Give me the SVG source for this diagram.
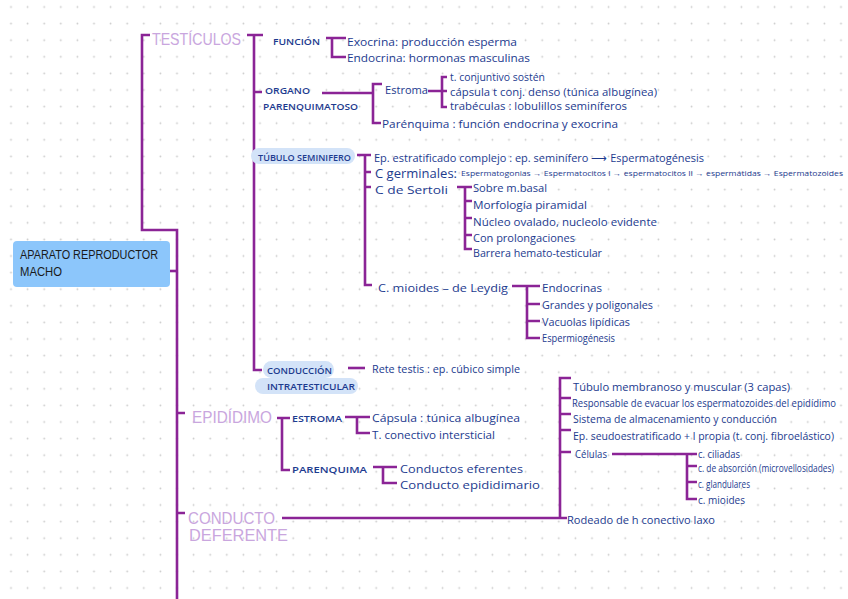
<svg xmlns="http://www.w3.org/2000/svg" width="848" height="599" viewBox="0 0 848 599">
<defs>
<pattern id="dots" x="2.7" y="-1.3" width="16.6" height="16.6" patternUnits="userSpaceOnUse">
<circle cx="8.3" cy="8.3" r="0.9" fill="#c9c9c9"/>
</pattern>
<style>
.t{font-family:"Open Sans","Liberation Sans",sans-serif;fill:#1d3b8f;font-size:11px;dominant-baseline:central}
.sm{font-size:7px}
.cap{font-size:9px;font-weight:600}
.big{font-size:12px}
.h{font-family:"Liberation Sans",sans-serif;fill:#c9a6de;font-size:16.5px;dominant-baseline:central}
.c{stroke:#8b2496;stroke-width:2.6;fill:none;stroke-linecap:butt;stroke-linejoin:miter}
.pill{fill:#d3e3f8}
</style>
</defs>
<rect width="848" height="599" fill="#ffffff"/>
<rect width="848" height="599" fill="url(#dots)"/>

<g id="connectors">
<path class="c" d="M150,35 H142 V230 H177 V599"/>
<path class="c" d="M170,271 H177"/>
<path class="c" d="M247,35 H263 M254,35 V370 H262 M254,92 H262 M254,155 H258"/>
<path class="c" d="M326,38 H346 M332,38 V57 H346"/>
<path class="c" d="M322,93 H373 M382,84 H373 V123 H381"/>
<path class="c" d="M428,91 H447 M447,77 H442 V107 H447"/>
<path class="c" d="M357,155 H371 M365,155 V285 H372 M365,172 H371 M365,187 H371"/>
<path class="c" d="M457,187 H472 M465,187 V249 H472 M465,201 H472 M465,218 H472 M465,235 H472"/>
<path class="c" d="M512,286 H540 M527,286 V338 H540 M527,304 H540 M527,321 H540"/>
<path class="c" d="M348,368 H365"/>
<path class="c" d="M177,413 H185 M277,418 H290 M282,418 V470 H290"/>
<path class="c" d="M345,417 H370 M357,417 V433 H370"/>
<path class="c" d="M373,467 H397 M383,467 V483 H397"/>
<path class="c" d="M177,513 H185 M282,518 H560 M571,378 H560 V518 H567 M560,398 H571 M560,414 H571 M560,430 H571 M560,452 H571"/>
<path class="c" d="M612,454 H697 M687,454 V499 H697 M687,466 H697 M687,482 H697"/>
</g>

<g id="root">
<rect x="13" y="241" width="157" height="46" rx="4" fill="#8cc6fb"/>
<text x="20" y="255" font-family="Liberation Sans, sans-serif" font-size="12.5" fill="#1a1a1a" dominant-baseline="central" textLength="138" lengthAdjust="spacingAndGlyphs">APARATO REPRODUCTOR</text>
<text x="20" y="272" font-family="Liberation Sans, sans-serif" font-size="12.5" fill="#1a1a1a" dominant-baseline="central" textLength="42" lengthAdjust="spacingAndGlyphs">MACHO</text>
</g>

<g id="testiculos"><text class="h" x="152" y="39" textLength="89" lengthAdjust="spacingAndGlyphs">TESTÍCULOS</text></g>

<g id="funcion"><text class="t cap" x="273" y="41" textLength="47" lengthAdjust="spacingAndGlyphs">FUNCIÓN</text></g>
<g id="exocrina"><text class="t" x="347" y="41" textLength="170" lengthAdjust="spacingAndGlyphs">Exocrina: producción esperma</text></g>
<g id="endocrina"><text class="t" x="347" y="57" textLength="183" lengthAdjust="spacingAndGlyphs">Endocrina: hormonas masculinas</text></g>

<g id="organo">
<text class="t cap" x="265" y="90" font-size="8.5" textLength="45" lengthAdjust="spacingAndGlyphs">ORGANO</text>
<text class="t cap" x="263" y="106" font-size="8.5" textLength="95" lengthAdjust="spacingAndGlyphs">PARENQUIMATOSO</text>
</g>
<g id="estroma-t"><text class="t" x="385" y="89" textLength="43" lengthAdjust="spacingAndGlyphs">Estroma</text></g>
<g id="tconj"><text class="t" x="450" y="76" font-size="9.5" textLength="95" lengthAdjust="spacingAndGlyphs">t. conjuntivo sostén</text></g>
<g id="capsula-t"><text class="t" x="450" y="91" font-size="10" textLength="207" lengthAdjust="spacingAndGlyphs">cápsula t conj. denso (túnica albugínea)</text></g>
<g id="trabeculas"><text class="t" x="450" y="105" font-size="9.5" textLength="177" lengthAdjust="spacingAndGlyphs">trabéculas : lobulillos seminíferos</text></g>
<g id="parenquima-t"><text class="t" x="382" y="123" textLength="236" lengthAdjust="spacingAndGlyphs">Parénquima : función endocrina y exocrina</text></g>

<g id="tubulo">
<rect class="pill" x="251" y="148" width="104" height="16" rx="8"/>
<text class="t cap" x="258" y="157" font-size="8.5" textLength="93" lengthAdjust="spacingAndGlyphs">TÚBULO SEMINIFERO</text>
</g>
<g id="ep-estratificado"><text class="t" x="374" y="157" font-size="10.5" textLength="330" lengthAdjust="spacingAndGlyphs">Ep. estratificado complejo : ep. seminífero ⟶ Espermatogénesis</text></g>
<g id="germinales">
<text class="t big" x="375" y="173" textLength="82" lengthAdjust="spacingAndGlyphs">C germinales:</text>
<text class="t sm" x="461" y="173" textLength="382" lengthAdjust="spacingAndGlyphs">Espermatogonias → Espermatocitos I → espermatocitos II → espermátidas → Espermatozoides</text>
</g>
<g id="sertoli"><text class="t" x="375" y="189" textLength="73" lengthAdjust="spacingAndGlyphs">C de Sertoli</text></g>
<g id="s1"><text class="t" x="473" y="187" font-size="10" textLength="74" lengthAdjust="spacingAndGlyphs">Sobre m.basal</text></g>
<g id="s2"><text class="t" x="473" y="204" font-size="10" textLength="114" lengthAdjust="spacingAndGlyphs">Morfología piramidal</text></g>
<g id="s3"><text class="t" x="473" y="221" font-size="10" textLength="184" lengthAdjust="spacingAndGlyphs">Núcleo ovalado, nucleolo evidente</text></g>
<g id="s4"><text class="t" x="473" y="237" font-size="10" textLength="102" lengthAdjust="spacingAndGlyphs">Con prolongaciones</text></g>
<g id="s5"><text class="t" x="473" y="252" font-size="9" textLength="129" lengthAdjust="spacingAndGlyphs">Barrera hemato-testicular</text></g>

<g id="leydig"><text class="t" x="378" y="287" textLength="130" lengthAdjust="spacingAndGlyphs">C. mioides – de Leydig</text></g>
<g id="l1"><text class="t" x="542" y="287" font-size="10" textLength="60" lengthAdjust="spacingAndGlyphs">Endocrinas</text></g>
<g id="l2"><text class="t" x="542" y="304" font-size="10" textLength="111" lengthAdjust="spacingAndGlyphs">Grandes y poligonales</text></g>
<g id="l3"><text class="t" x="542" y="321" font-size="10" textLength="88" lengthAdjust="spacingAndGlyphs">Vacuolas lipídicas</text></g>
<g id="l4"><text class="t" x="542" y="337" font-size="10" textLength="73" lengthAdjust="spacingAndGlyphs">Espermiogénesis</text></g>

<g id="conduccion">
<rect class="pill" x="263" y="361" width="71" height="17" rx="8.5"/>
<rect class="pill" x="255" y="378" width="103" height="16" rx="8"/>
<text class="t cap" x="267" y="370" font-size="8.5" textLength="65" lengthAdjust="spacingAndGlyphs">CONDUCCIÓN</text>
<text class="t cap" x="267" y="386" font-size="8.5" textLength="88" lengthAdjust="spacingAndGlyphs">INTRATESTICULAR</text>
</g>
<g id="rete"><text class="t" x="372" y="368" font-size="9.5" textLength="148" lengthAdjust="spacingAndGlyphs">Rete testis : ep. cúbico simple</text></g>

<g id="epididimo"><text class="h" x="192" y="417" textLength="80" lengthAdjust="spacingAndGlyphs">EPIDÍDIMO</text></g>
<g id="estroma-e"><text class="t cap" x="292" y="418" font-size="10" textLength="50" lengthAdjust="spacingAndGlyphs">ESTROMA</text></g>
<g id="capsula-e"><text class="t" x="372" y="417" textLength="148" lengthAdjust="spacingAndGlyphs">Cápsula : túnica albugínea</text></g>
<g id="conectivo"><text class="t" x="372" y="434" textLength="123" lengthAdjust="spacingAndGlyphs">T. conectivo intersticial</text></g>
<g id="parenquima-e"><text class="t cap" x="292" y="469" font-size="10" textLength="75" lengthAdjust="spacingAndGlyphs">PARENQUIMA</text></g>
<g id="eferentes"><text class="t" x="400" y="468" font-size="12" textLength="123" lengthAdjust="spacingAndGlyphs">Conductos eferentes</text></g>
<g id="epididimario"><text class="t" x="400" y="484" font-size="12" textLength="140" lengthAdjust="spacingAndGlyphs">Conducto epididimario</text></g>

<g id="conducto-deferente">
<text class="h" x="188" y="518" textLength="87" lengthAdjust="spacingAndGlyphs">CONDUCTO</text>
<text class="h" x="189" y="535" textLength="99" lengthAdjust="spacingAndGlyphs">DEFERENTE</text>
</g>
<g id="d1"><text class="t" x="573" y="386" font-size="10" textLength="217" lengthAdjust="spacingAndGlyphs">Túbulo membranoso y muscular (3 capas)</text></g>
<g id="d2"><text class="t" x="572" y="402" font-size="6" textLength="264" lengthAdjust="spacingAndGlyphs">Responsable de evacuar los espermatozoides del epidídimo</text></g>
<g id="d3"><text class="t" x="573" y="418" font-size="9" textLength="204" lengthAdjust="spacingAndGlyphs">Sistema de almacenamiento y conducción</text></g>
<g id="d4"><text class="t" x="573" y="435" font-size="9" textLength="261" lengthAdjust="spacingAndGlyphs">Ep. seudoestratificado + l propia (t. conj. fibroelástico)</text></g>
<g id="celulas"><text class="t" x="575" y="453" font-size="8.5" textLength="32" lengthAdjust="spacingAndGlyphs">Células</text></g>
<g id="c1"><text class="t" x="698" y="453" font-size="7.5" textLength="42" lengthAdjust="spacingAndGlyphs">c. ciliadas</text></g>
<g id="c2"><text class="t" x="698" y="467" font-size="6.2" textLength="136" lengthAdjust="spacingAndGlyphs">c. de absorción (microvellosidades)</text></g>
<g id="c3"><text class="t" x="698" y="483" font-size="7.5" textLength="52" lengthAdjust="spacingAndGlyphs">c. glandulares</text></g>
<g id="c4"><text class="t" x="698" y="499" font-size="7.5" textLength="47" lengthAdjust="spacingAndGlyphs">c. mioides</text></g>
<g id="rodeado"><text class="t" x="567" y="519" font-size="8.5" textLength="148" lengthAdjust="spacingAndGlyphs">Rodeado de h conectivo laxo</text></g>
</svg>
